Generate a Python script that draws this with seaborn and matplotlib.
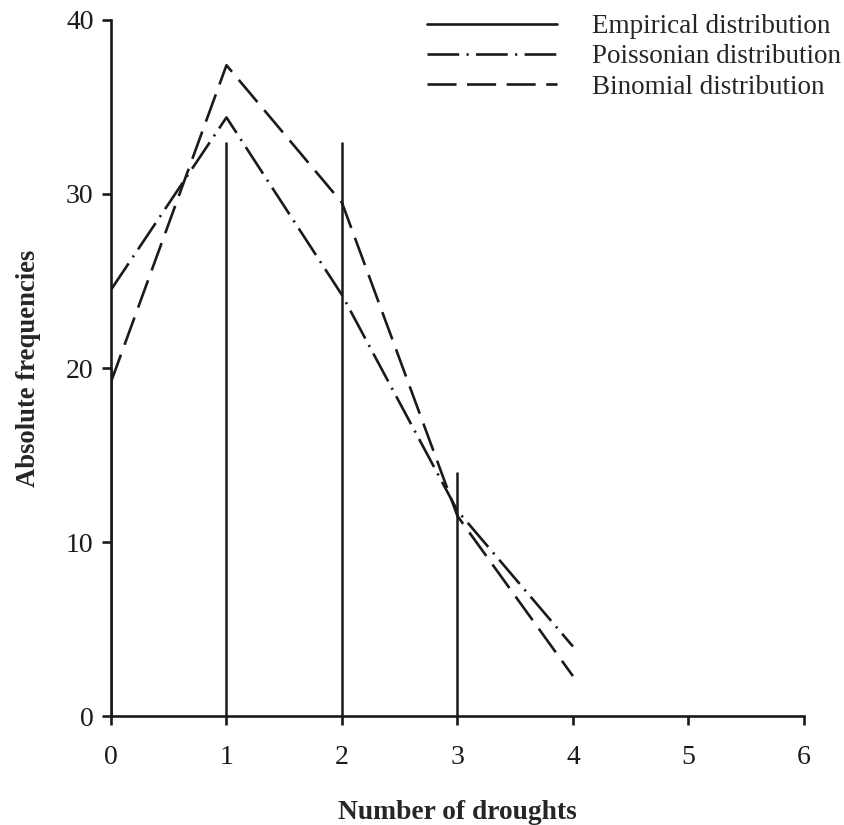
import matplotlib
matplotlib.use("Agg")
import matplotlib.pyplot as plt
import seaborn as sns
import pandas as pd
from matplotlib.lines import Line2D

droughts = [0, 1, 2, 3, 4]
empirical = [20, 33, 33, 14, 0]
poisson = [24.5, 34.4, 24.2, 11.8, 4.0]
binomial = [19.2, 37.4, 29.5, 11.5, 2.3]

sns.set_theme(style="ticks")
plt.rcParams['font.family'] = ['Liberation Serif', 'DejaVu Serif']

fig = plt.figure(figsize=(8.44, 8.25), dpi=100)
ax = fig.add_axes([0.1315, 0.132, 0.821, 0.8438])

df = pd.DataFrame({"x": droughts, "poisson": poisson, "binomial": binomial})
lw = 1.9
pois_dash = [12, 2.8, 0.8, 2.8]
bin_dash = [11, 4]
sns.lineplot(data=df, x="x", y="poisson", ax=ax, color="#1a1a1a", lw=lw)
ax.lines[-1].set_dashes(pois_dash)
sns.lineplot(data=df, x="x", y="binomial", ax=ax, color="#1a1a1a", lw=lw)
ax.lines[-1].set_dashes(bin_dash)
ax.vlines(droughts, 0, empirical, color="#1a1a1a", lw=1.8)

ax.set_xlim(0, 6)
ax.set_ylim(0, 40)
ax.set_xticks(range(0, 7))
ax.set_yticks([0, 10, 20, 30, 40])
sns.despine(ax=ax)
for s in ["left", "bottom"]:
    ax.spines[s].set_linewidth(1.9)
    ax.spines[s].set_color("#1a1a1a")
ax.tick_params(axis="both", direction="out", length=6.5, width=1.9, labelsize=20,
               colors="#1a1a1a")
ax.tick_params(axis="x", pad=14)
ax.tick_params(axis="y", pad=6)
ax.set_xlabel("Number of droughts", fontsize=19.8, fontweight="bold", labelpad=22)
ax.set_ylabel("Absolute frequencies", fontsize=19.2, fontweight="bold", labelpad=18)

handles = [
    Line2D([], [], color="#1a1a1a", lw=lw),
    Line2D([], [], color="#1a1a1a", lw=lw, dashes=pois_dash),
    Line2D([], [], color="#1a1a1a", lw=lw, dashes=bin_dash),
]
labels = ["Empirical distribution", "Poissonian distribution", "Binomial distribution"]
ax.legend(handles, labels, loc="upper left", bbox_to_anchor=(427 / 844, 1 - 14 / 825),
          bbox_transform=fig.transFigure, borderaxespad=0, borderpad=0, frameon=False,
          fontsize=19.5, handlelength=4.8, handletextpad=1.3, labelspacing=0.2)

fig.savefig("out.png", dpi=100, facecolor="white")
